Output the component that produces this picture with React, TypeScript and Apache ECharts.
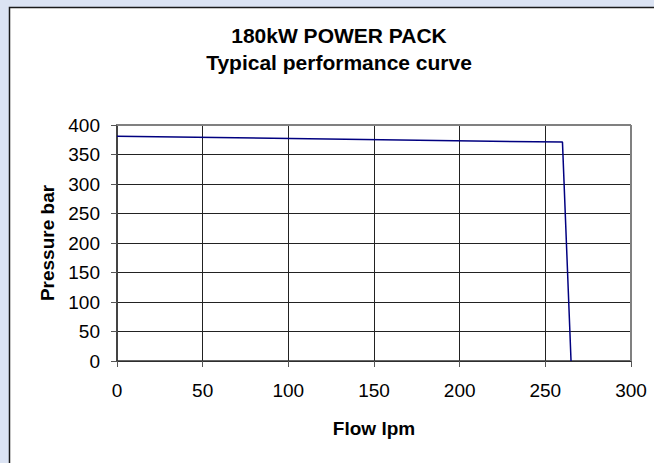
import React, { useEffect, useRef } from "react";
import * as echarts from "echarts";

const flowLpm = [0, 260, 265];
const pressureBar = [381, 371, 0];
const titleLines = ["180kW POWER PACK", "Typical performance curve"];
const xAxisName = "Flow lpm";
const yAxisName = "Pressure bar";

export default function App() {
  const ref = useRef<HTMLDivElement>(null);
  useEffect(() => {
    document.body.style.margin = "0";
    const chart = echarts.init(ref.current!, null, { renderer: "svg" });
    const font = "Liberation Sans, Arial, sans-serif";
    chart.setOption({
      animation: false,
      backgroundColor: "#dbe3f3",
      graphic: [
        {
          type: "rect",
          z: -10,
          shape: { x: 9.5, y: 7.5, width: 700, height: 500 },
          style: { fill: "#ffffff", stroke: "#1a1a1a", lineWidth: 1.5 },
          silent: true,
        },
        {
          type: "text",
          x: 339,
          y: 35,
          style: {
            text: titleLines[0],
            fontFamily: font,
            fontWeight: "bold",
            fontSize: 21,
            fill: "#000",
            textAlign: "center",
            textVerticalAlign: "middle",
          },
        },
        {
          type: "text",
          x: 339,
          y: 62,
          style: {
            text: titleLines[1],
            fontFamily: font,
            fontWeight: "bold",
            fontSize: 21,
            fill: "#000",
            textAlign: "center",
            textVerticalAlign: "middle",
          },
        },
      ],
      grid: { left: 117, right: 23, top: 125, bottom: 102, show: false },
      xAxis: {
        type: "value",
        min: 0,
        max: 300,
        interval: 50,
        name: xAxisName,
        nameLocation: "middle",
        nameGap: 58,
        nameTextStyle: { fontFamily: font, fontWeight: "bold", fontSize: 19, color: "#000" },
        axisLine: { show: true, onZero: false, lineStyle: { color: "#333", width: 1.5 } },
        axisTick: { show: true, length: 6, lineStyle: { color: "#555" } },
        axisLabel: { fontFamily: font, fontSize: 19, color: "#000", margin: 20 },
        splitLine: { show: true, lineStyle: { color: "#222", width: 1 } },
      },
      yAxis: {
        type: "value",
        min: 0,
        max: 400,
        interval: 50,
        name: yAxisName,
        nameLocation: "middle",
        nameGap: 60,
        nameTextStyle: { fontFamily: font, fontWeight: "bold", fontSize: 19, color: "#000" },
        axisLine: { show: true, onZero: false, lineStyle: { color: "#444", width: 2 } },
        axisTick: { show: true, length: 6, lineStyle: { color: "#555" } },
        axisLabel: { fontFamily: font, fontSize: 19, color: "#000", margin: 17 },
        splitLine: { show: true, lineStyle: { color: "#222", width: 1 } },
      },
      series: [
        {
          type: "line",
          data: flowLpm.map((x, i) => [x, pressureBar[i]]),
          showSymbol: false,
          symbol: "none",
          lineStyle: { color: "#000080", width: 1.5 },
        },
        {
          type: "line",
          silent: true,
          data: [],
          markLine: {
            silent: true,
            symbol: "none",
            label: { show: false },
            lineStyle: { color: "#808080", width: 2, type: "solid" },
            data: [
              [{ coord: [0, 400] }, { coord: [300, 400] }],
              [{ coord: [300, 400] }, { coord: [300, 0] }],
            ],
          },
        },
      ],
    });
    return () => chart.dispose();
  }, []);
  return <div ref={ref} style={{ position: "absolute", left: 0, top: 0, width: 654, height: 463 }} />;
}
